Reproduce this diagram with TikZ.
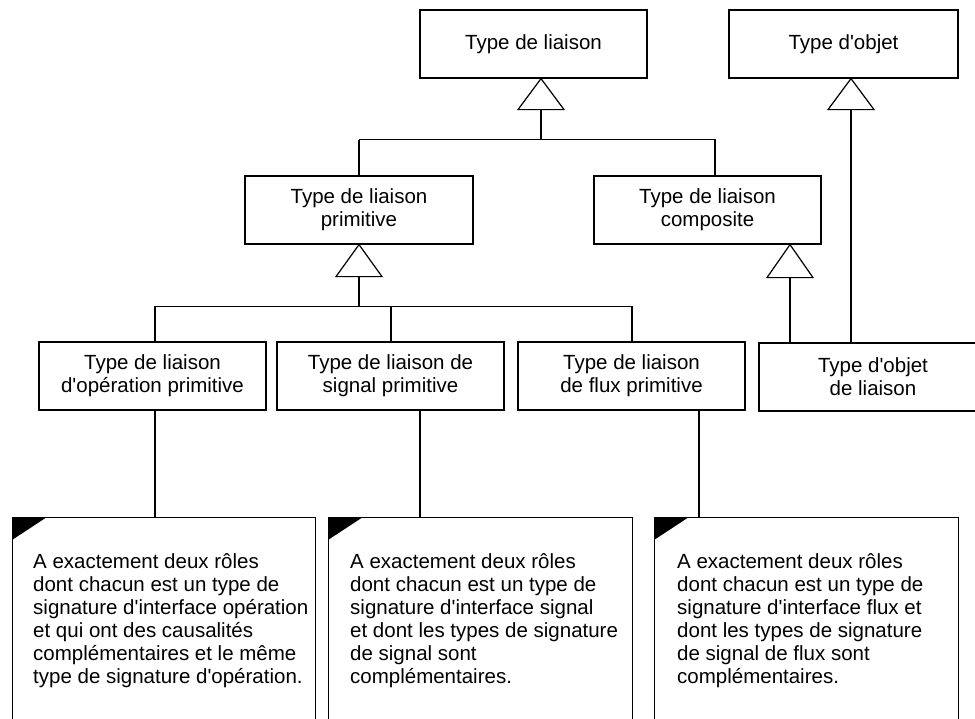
\documentclass[tikz,border=0pt]{standalone}
\usepackage{fontspec}
\setmainfont{Liberation Sans}[Ligatures=TeXOff]
\usetikzlibrary{calc}
\begin{document}
\begin{tikzpicture}[x=1pt,y=-1pt,
  every node/.style={font=\fontsize{20.5}{23}\selectfont},
  typebox/.style={draw, line width=1.2pt, rectangle, inner sep=0pt,
    minimum width=227pt, minimum height=68pt, align=center},
  notebox/.style={draw, line width=1.2pt, rectangle, inner sep=0pt,
    minimum height=220pt, anchor=north west},
  notetext/.style={anchor=north west, inner sep=0pt, align=left},
  vline/.style={line width=2pt},
  hline/.style={line width=1.3pt},
  gen/.style={draw, line width=1.2pt, fill=white, line join=miter}
]
\useasboundingbox (0,0) rectangle (975,718);

% class boxes
\node[typebox] (liaison) at (533.5,44) {Type de liaison};
\node[typebox, minimum width=229pt] (objet) at (843.5,44) {Type d'objet};
\node[typebox, minimum width=228pt] (prim) at (359,210) {Type de liaison\\primitive};
\node[typebox] (comp) at (707.5,210) {Type de liaison\\composite};
\node[typebox] (op) at (152.5,376) {Type de liaison\\d'opération primitive};
\node[typebox] (sig) at (390.5,376) {Type de liaison de\\signal primitive};
\node[typebox] (flux) at (631.5,376) {Type de liaison\\de flux primitive};
\node[typebox, minimum width=228pt] (objliaison) at (873,377) {Type d'objet\\de liaison};

% constraint notes
\node[notebox, minimum width=303pt] (opnote) at (12,517) {};
\node[notebox, minimum width=304pt] (signote) at (328,517) {};
\node[notebox, minimum width=304pt] (fluxnote) at (654,517) {};
\foreach \n in {opnote,signote,fluxnote}
  \fill (\n.north west) -- ++(35,0) -- ++(-35,23) -- cycle;

\node[notetext] (optext) at ($(opnote.north west)+(21,36)$)
  {A exactement deux rôles\\dont chacun est un type de\\signature d'interface opération\\et qui ont des causalités\\complémentaires et le même\\type de signature d'opération.};
\node[notetext] (sigtext) at ($(signote.north west)+(22,36)$)
  {A exactement deux rôles\\dont chacun est un type de\\signature d'interface signal\\et dont les types de signature\\de signal sont\\complémentaires.};
\node[notetext] (fluxtext) at ($(fluxnote.north west)+(23,36)$)
  {A exactement deux rôles\\dont chacun est un type de\\signature d'interface flux et\\dont les types de signature\\de signal de flux sont\\complémentaires.};

% attachment points of the connectors
\coordinate (g1) at ($(liaison.south)+(7.5,0)$);
\coordinate (g1b) at ($(g1)+(0,31)$);
\coordinate (j1) at ($(g1)+(0,61)$);
\coordinate (primtop) at (prim.north);
\coordinate (comptop) at ($(comp.north)+(7.5,0)$);
\coordinate (g2) at (prim.south);
\coordinate (g2b) at ($(g2)+(0,32)$);
\coordinate (j2) at ($(g2)+(0,62)$);
\coordinate (optop) at ($(op.north)+(2.5,0)$);
\coordinate (sigtop) at (sig.north);
\coordinate (fluxtop) at ($(flux.north)+(0.5,0)$);
\coordinate (g3) at ($(comp.south)+(82.5,0)$);
\coordinate (g3b) at ($(g3)+(0,33)$);
\coordinate (g4) at ($(objet.south)+(7.5,0)$);
\coordinate (g4b) at ($(g4)+(0,31)$);
\coordinate (opbot) at ($(op.south)+(2.5,0)$);
\coordinate (sigbot) at ($(sig.south)+(29.5,0)$);
\coordinate (fluxbot) at ($(flux.south)+(67.5,0)$);

% generalisation: liaison <- prim, comp
\draw[vline] (g1b) -- (j1);
\draw[hline] (primtop |- j1) -- (comptop |- j1) -- (comptop);
\draw[vline] (primtop |- j1) -- (primtop);
\draw[gen] (g1) -- ++(23,31) -- ++(-46,0) -- cycle;

% generalisation: prim <- op, sig, flux
\draw[vline] (g2b) -- (j2);
\draw[hline] (optop) -- (optop |- j2) -- (fluxtop |- j2) -- (fluxtop);
\draw[vline] (sigtop |- j2) -- (sigtop);
\draw[gen] (g2) -- ++(23,32) -- ++(-46,0) -- cycle;

% generalisation: comp <- objliaison, objet <- objliaison
\draw[vline] (g3b) -- (g3b |- objliaison.north);
\draw[gen] (g3) -- ++(23,33) -- ++(-46,0) -- cycle;
\draw[vline] (g4b) -- (g4b |- objliaison.north);
\draw[gen] (g4) -- ++(23,31) -- ++(-46,0) -- cycle;

% note anchors
\draw[vline] (opbot) -- (opbot |- opnote.north);
\draw[vline] (sigbot) -- (sigbot |- signote.north);
\draw[vline] (fluxbot) -- (fluxbot |- fluxnote.north);
\end{tikzpicture}
\end{document}
